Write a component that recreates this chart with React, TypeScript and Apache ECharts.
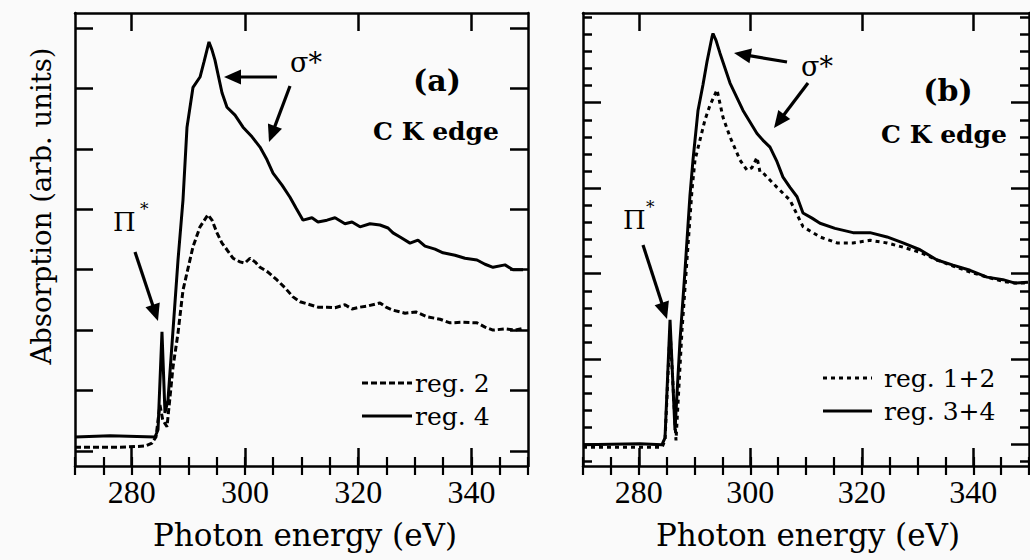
import React, { useEffect, useRef } from "react";
import * as echarts from "echarts";

// ---------- data ----------
const X_MIN = 270;
const X_MAX = 350;
const X_LABELS = [280, 300, 320, 340];

const Y_MAX_A = 7.5;
const Y_MAJOR_A = [0.25, 1.25, 2.25, 3.25, 4.25, 5.25, 6.25, 7.25];
const Y_MAX_B = 5.3;
const Y_MAJOR_B = [0.25, 1.25, 2.25, 3.25, 4.25];
const Y_MINOR_B = [
  0.05, 0.45, 0.65, 0.85, 1.05, 1.45, 1.65, 1.85, 2.05, 2.45, 2.65, 2.85, 3.05,
  3.45, 3.65, 3.85, 4.05, 4.45, 4.65, 4.85, 5.05, 5.25,
];

// panel (a): reg. 4 (solid)
const A_REG4: [number, number][] = [
  [270.0, 0.48], [276.2, 0.5], [284.13, 0.48], [284.66, 0.6], [285.36, 2.22],
  [285.89, 0.88], [286.42, 1.09], [287.31, 2.25], [288.19, 3.41], [289.07, 4.4],
  [289.78, 5.61], [290.84, 6.27], [292.08, 6.44], [292.78, 6.69], [293.31, 6.89],
  [293.66, 7.02], [294.19, 6.89], [294.72, 6.72], [295.96, 6.18], [296.84, 5.94],
  [298.26, 5.81], [299.67, 5.61], [301.26, 5.45], [302.67, 5.28], [303.91, 5.07],
  [304.97, 4.85], [306.56, 4.65], [307.97, 4.45], [309.03, 4.27], [310.27, 4.07],
  [311.85, 4.11], [312.91, 4.04], [314.5, 4.07], [315.92, 4.11], [317.68, 4.01],
  [318.92, 4.04], [320.33, 3.96], [322.1, 4.01], [323.86, 3.99], [325.28, 3.94],
  [326.16, 3.86], [327.4, 3.79], [329.16, 3.69], [330.57, 3.74], [331.81, 3.64],
  [333.58, 3.59], [334.99, 3.53], [337.11, 3.49], [338.87, 3.44], [340.99, 3.41],
  [342.41, 3.34], [343.82, 3.29], [345.94, 3.33], [347.35, 3.25], [349.12, 3.25],
];

// panel (a): reg. 2 (dashed)
const A_REG2: [number, number][] = [
  [270.0, 0.31], [277.95, 0.31], [282.36, 0.33], [283.6, 0.38], [284.3, 0.48],
  [285.0, 1.01], [285.5, 0.76], [286.25, 0.65], [287.31, 1.64], [288.19, 2.2],
  [289.07, 2.91], [289.78, 3.2], [290.84, 3.63], [292.08, 3.96], [293.49, 4.16],
  [294.19, 4.07], [295.08, 3.86], [295.96, 3.69], [296.84, 3.58], [297.9, 3.44],
  [299.14, 3.38], [300.0, 3.36], [300.91, 3.44], [301.79, 3.38], [302.67, 3.29],
  [304.08, 3.21], [305.67, 3.08], [307.09, 2.95], [308.5, 2.8], [309.74, 2.72],
  [311.5, 2.67], [312.91, 2.63], [314.5, 2.63], [315.92, 2.62], [317.68, 2.67],
  [318.92, 2.6], [320.33, 2.63], [321.74, 2.65], [323.86, 2.7], [324.92, 2.63],
  [326.16, 2.58], [328.28, 2.53], [330.22, 2.55], [332.16, 2.47], [334.46, 2.43],
  [336.22, 2.37], [338.34, 2.38], [340.99, 2.37], [342.41, 2.3], [343.82, 2.25],
  [345.94, 2.27], [347.7, 2.25], [349.12, 2.28],
];

// panel (b): reg. 3+4 (solid)
const B_REG34: [number, number][] = [
  [270.0, 0.25], [280.2, 0.26], [284.17, 0.25], [284.71, 0.33], [285.61, 1.71],
  [286.5, 0.42], [287.4, 1.47], [288.3, 2.29], [289.19, 3.17], [289.73, 3.58],
  [290.63, 4.16], [291.52, 4.46], [292.24, 4.73], [293.14, 5.02], [293.32, 5.06],
  [293.86, 4.98], [294.57, 4.83], [296.37, 4.48], [298.7, 4.16], [301.21, 3.89],
  [302.29, 3.81], [303.54, 3.73], [304.8, 3.56], [305.87, 3.38], [307.13, 3.26],
  [308.39, 3.15], [309.46, 2.96], [311.08, 2.9], [312.51, 2.84], [315.2, 2.78],
  [318.43, 2.73], [321.48, 2.73], [324.53, 2.68], [327.4, 2.61], [330.45, 2.53],
  [333.5, 2.41], [336.37, 2.35], [339.42, 2.29], [342.47, 2.21], [345.34, 2.18],
  [347.49, 2.14], [349.82, 2.15],
];

// panel (b): reg. 1+2 (dotted)
const B_REG12: [number, number][] = [
  [270.0, 0.22], [284.17, 0.22], [284.71, 0.3], [285.61, 1.59], [286.68, 0.3],
  [287.76, 1.59], [288.65, 2.41], [289.55, 3.23], [290.09, 3.58], [291.88, 4.05],
  [292.78, 4.22], [294.04, 4.4], [295.11, 4.08], [296.37, 3.85], [298.16, 3.58],
  [299.42, 3.46], [300.31, 3.49], [301.21, 3.61], [301.75, 3.44], [302.29, 3.43],
  [304.8, 3.26], [307.13, 3.11], [309.46, 2.8], [312.51, 2.68], [315.56, 2.61],
  [318.43, 2.61], [321.48, 2.64], [324.53, 2.61], [327.4, 2.56], [330.45, 2.5],
  [333.5, 2.41], [336.37, 2.34], [339.42, 2.27], [342.47, 2.21], [345.34, 2.16],
  [347.49, 2.14], [349.82, 2.14],
];

const X_TITLE = "Photon energy (eV)";
const Y_TITLE = "Absorption (arb. units)";

// ---------- styling ----------
const INK = "#000";
const SERIF = '"DejaVu Serif", serif';
const NUM_FONT = '"Liberation Serif", serif';

function arrow(x1: number, y1: number, x2: number, y2: number) {
  const dx = x2 - x1;
  const dy = y2 - y1;
  const L = Math.hypot(dx, dy);
  const ux = dx / L;
  const uy = dy / L;
  const hl = 17;
  const hw = 7.5;
  const bx = x2 - ux * hl;
  const by = y2 - uy * hl;
  return [
    {
      type: "line",
      shape: { x1, y1, x2: bx + ux * 3, y2: by + uy * 3 },
      style: { stroke: INK, lineWidth: 3.2 },
    },
    {
      type: "polygon",
      shape: {
        points: [
          [x2, y2],
          [bx - uy * hw, by + ux * hw],
          [bx + uy * hw, by - ux * hw],
        ],
      },
      style: { fill: INK },
    },
  ];
}

function txt(
  text: string,
  x: number,
  y: number,
  size: number,
  opts: { bold?: boolean; align?: string; rotation?: number; family?: string } = {}
) {
  return {
    type: "text",
    x,
    y,
    rotation: opts.rotation || 0,
    style: {
      text,
      fill: INK,
      fontSize: size,
      fontFamily: opts.family || SERIF,
      fontWeight: opts.bold ? "bold" : "normal",
      align: opts.align || "left",
      verticalAlign: "middle",
    },
  };
}

function legendLine(x1: number, x2: number, y: number, dash: number[] | null) {
  return {
    type: "line",
    shape: { x1, y1: y, x2, y2: y },
    style: { stroke: INK, lineWidth: 2.8, lineDash: dash || undefined },
  };
}

function xAxesFor(g: number) {
  const base = {
    type: "value",
    gridIndex: g,
    min: X_MIN,
    max: X_MAX,
    splitLine: { show: false },
  };
  const line = { show: true, onZero: false, lineStyle: { color: INK, width: 2.5 } };
  const major = {
    show: true,
    inside: true,
    length: 18,
    customValues: X_LABELS,
    lineStyle: { color: INK, width: 2.5 },
  };
  const minor = {
    show: true,
    inside: true,
    length: 9,
    lineStyle: { color: INK, width: 2.2 },
  };
  return [
    {
      ...base,
      position: "bottom",
      axisLine: line,
      axisTick: major,
      axisLabel: {
        show: true,
        customValues: X_LABELS,
        fontSize: 32,
        fontFamily: NUM_FONT,
        color: INK,
        margin: 10,
      },
    },
    {
      ...base,
      position: "bottom",
      interval: 5,
      axisLine: { show: false },
      axisTick: minor,
      axisLabel: { show: false },
    },
    {
      ...base,
      position: "top",
      axisLine: line,
      axisTick: major,
      axisLabel: { show: false },
    },
    {
      ...base,
      position: "top",
      interval: 5,
      axisLine: { show: false },
      axisTick: minor,
      axisLabel: { show: false },
    },
  ];
}

function yAxesFor(g: number, max: number, majors: number[], minors: number[] | null) {
  const base = {
    type: "value",
    gridIndex: g,
    min: 0,
    max,
    splitLine: { show: false },
    axisLabel: { show: false },
  };
  const line = { show: true, onZero: false, lineStyle: { color: INK, width: 2.5 } };
  const out: any[] = [];
  for (const pos of ["left", "right"]) {
    out.push({
      ...base,
      position: pos,
      axisLine: line,
      axisTick: {
        show: true,
        inside: true,
        length: 18,
        customValues: majors,
        lineStyle: { color: INK, width: 2.5 },
      },
    });
    if (minors) {
      out.push({
        ...base,
        position: pos,
        axisLine: { show: false },
        axisTick: {
          show: true,
          inside: true,
          length: 9,
          customValues: minors,
          lineStyle: { color: INK, width: 2.5 },
        },
      });
    }
  }
  return out;
}

export default function App() {
  const ref = useRef<HTMLDivElement>(null);

  useEffect(() => {
    if (!ref.current) return;
    const chart = echarts.init(ref.current, undefined, { renderer: "svg" });

    const xAxis = [...xAxesFor(0), ...xAxesFor(1)];
    const yA = yAxesFor(0, Y_MAX_A, Y_MAJOR_A, null);
    const yB = yAxesFor(1, Y_MAX_B, Y_MAJOR_B, Y_MINOR_B);
    const yAxis = [...yA, ...yB];
    const yBIndex = yA.length;

    const lineSeries = (
      name: string,
      data: [number, number][],
      xi: number,
      yi: number,
      dash: number[] | "solid"
    ) => ({
      name,
      type: "line",
      xAxisIndex: xi,
      yAxisIndex: yi,
      data,
      symbol: "none",
      showSymbol: false,
      clip: true,
      lineStyle: { color: INK, width: 3, type: dash },
      z: 3,
    });

    const graphic: any[] = [
      // axis titles
      txt(Y_TITLE, 41, 206, 27.5, { align: "center", rotation: Math.PI / 2 }),
      txt(X_TITLE, 305, 535, 31, { align: "center" }),
      txt(X_TITLE, 808, 535, 31, { align: "center" }),
      // panel (a) annotations
      txt("σ*", 290, 62, 27),
      ...arrow(277, 77, 224, 77),
      ...arrow(290, 86, 269, 142),
      txt("(a)", 437, 80, 30, { bold: true, align: "center" }),
      txt("C K edge", 436, 131, 25, { bold: true, align: "center" }),
      txt("Π", 113, 222, 26),
      txt("*", 140, 209, 17),
      ...arrow(135, 252, 158, 321),
      legendLine(362, 412, 383, [6, 3]),
      txt("reg. 2", 415, 383, 25),
      legendLine(362, 412, 416, null),
      txt("reg. 4", 415, 416, 25),
      // panel (b) annotations
      txt("σ*", 801, 66, 27),
      ...arrow(787, 62, 734, 53),
      ...arrow(808, 83, 774, 128),
      txt("(b)", 948, 90, 30, { bold: true, align: "center" }),
      txt("C K edge", 944, 134, 25, { bold: true, align: "center" }),
      txt("Π", 623, 220, 26),
      txt("*", 646, 207, 17),
      ...arrow(643, 245, 667, 319),
      legendLine(823, 872, 378, [4, 4]),
      txt("reg. 1+2", 884, 378, 25),
      legendLine(823, 872, 411, null),
      txt("reg. 3+4", 884, 411, 25),
    ];

    chart.setOption({
      animation: false,
      backgroundColor: "#fafafa",
      grid: [
        { left: 75, top: 13, width: 453, height: 453 },
        { left: 583, top: 13, width: 446, height: 453 },
      ],
      xAxis,
      yAxis,
      series: [
        lineSeries("reg. 2", A_REG2, 0, 0, [6, 3]),
        lineSeries("reg. 4", A_REG4, 0, 0, "solid"),
        lineSeries("reg. 1+2", B_REG12, 4, yBIndex, [4, 4]),
        lineSeries("reg. 3+4", B_REG34, 4, yBIndex, "solid"),
      ],
      graphic,
    });

    return () => chart.dispose();
  }, []);

  return (
    <div
      ref={ref}
      style={{ position: "absolute", left: 0, top: 0, width: 1030, height: 560 }}
    />
  );
}
